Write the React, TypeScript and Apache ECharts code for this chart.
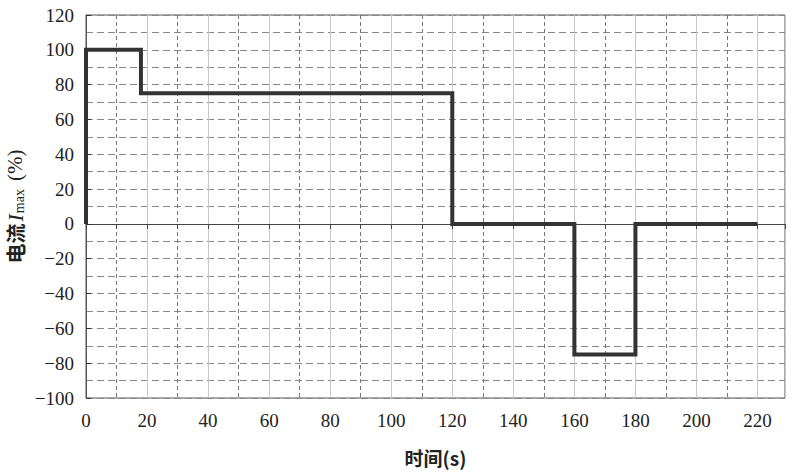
import React, { useEffect, useRef } from "react";
import * as echarts from "echarts";

const timeS: number[] = [0, 0, 18, 18, 120, 120, 160, 160, 180, 180, 220];
const currentPct: number[] = [0, 100, 100, 75, 75, 0, 0, -75, -75, 0, 0];

const X_MIN = 0;
const X_MAX = 229;
const X_INTERVAL = 20;
const Y_MIN = -100;
const Y_MAX = 120;
const Y_INTERVAL = 20;

export default function App() {
  const ref = useRef<HTMLDivElement>(null);
  useEffect(() => {
    if (!ref.current) return;
    const chart = echarts.init(ref.current, null, { renderer: "svg" });
    const numFont = "'Liberation Serif', 'Times New Roman', serif";
    const cjkFont = "'Noto Sans CJK SC', sans-serif";
    chart.setOption({
      animation: false,
      backgroundColor: "#ffffff",
      grid: {
        left: 86,
        right: 15,
        top: 15,
        bottom: 78,
        show: true,
        borderColor: "#555",
        borderWidth: 1,
        containLabel: false,
        outerBoundsMode: "none",
      },
      xAxis: [
        {
          type: "value",
          min: X_MIN,
          max: X_MAX,
          interval: X_INTERVAL,
          axisLine: { show: false, onZero: false },
          axisTick: { show: false },
          axisLabel: {
            margin: 13,
            fontFamily: numFont,
            fontSize: 19,
            color: "#222",
            showMaxLabel: false,
          },
          splitLine: { show: true, lineStyle: { color: "#c8c8c8", width: 1, type: "solid" } },
          minorTick: { show: false, splitNumber: 2 },
          minorSplitLine: { show: true, lineStyle: { color: "#777", width: 1, type: [4, 3] } },
          name: "时间(s)",
          nameLocation: "middle",
          nameGap: 50,
          nameMoveOverlap: false,
          nameTextStyle: { fontFamily: cjkFont, fontSize: 19, fontWeight: "bold", color: "#222" },
        },
        {
          type: "value",
          min: X_MIN,
          max: X_MAX,
          interval: X_INTERVAL,
          position: "bottom",
          axisLine: { show: true, onZero: true, lineStyle: { color: "#444", width: 1 } },
          axisTick: { show: true, length: 5, lineStyle: { color: "#444" } },
          minorTick: { show: true, splitNumber: 2, length: 5, lineStyle: { color: "#444" } },
          axisLabel: { show: false },
          splitLine: { show: false },
        },
      ],
      yAxis: {
        type: "value",
        min: Y_MIN,
        max: Y_MAX,
        interval: Y_INTERVAL,
        axisLine: { show: true, onZero: false, lineStyle: { color: "#555", width: 1 } },
        axisTick: { show: true, inside: true, length: 5, lineStyle: { color: "#333" } },
        axisLabel: {
          margin: 12,
          fontFamily: numFont,
          fontSize: 19,
          color: "#222",
          formatter: (v: number) => (v < 0 ? "\u2212" + Math.abs(v) : String(v)),
        },
        splitLine: { show: true, lineStyle: { color: "#888", width: 1, type: [7, 4] } },
        minorTick: { show: false, splitNumber: 2 },
        minorSplitLine: { show: true, lineStyle: { color: "#888", width: 1, type: [7, 4] } },
        name: "{cn|电流}{i|I}{sub|max}{p|(%)}",
        nameLocation: "middle",
        nameRotate: 90,
        nameGap: 60,
        nameMoveOverlap: false,
        nameTextStyle: {
          rich: {
            cn: { fontFamily: cjkFont, fontSize: 20, fontWeight: "bold", color: "#222" },
            i: { fontFamily: numFont, fontSize: 22, fontStyle: "italic", color: "#222", padding: [0, 1, 0, 2] },
            sub: { fontFamily: numFont, fontSize: 14, color: "#222", verticalAlign: "bottom", padding: [6, 8, 0, 0] },
            p: { fontFamily: numFont, fontSize: 21, color: "#222" },
          },
        },
      },
      series: [
        {
          type: "line",
          xAxisIndex: 0,
          data: timeS.map((t, i) => [t, currentPct[i]]),
          symbol: "none",
          lineStyle: { color: "#333", width: 4, join: "miter" },
          z: 5,
        },
      ],
    });
    return () => chart.dispose();
  }, []);
  return <div ref={ref} style={{ width: 800, height: 476, position: "absolute", left: 0, top: 0 }} />;
}
